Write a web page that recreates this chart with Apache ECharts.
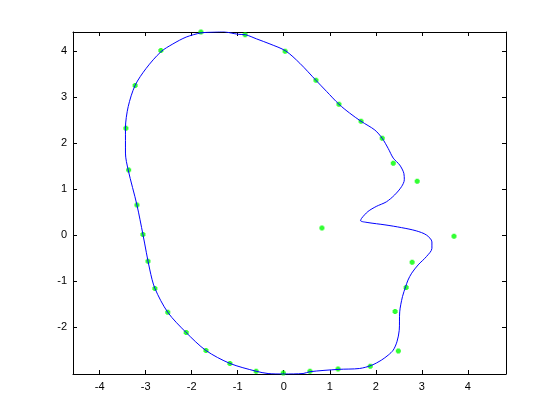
<!DOCTYPE html>
<html>
<head>
<meta charset="utf-8">
<script src="https://cdn.jsdelivr.net/npm/echarts@6/dist/echarts.min.js"></script>
<style>html,body{margin:0;padding:0;background:#fff;}#c{width:560px;height:420px;}</style>
</head>
<body>
<div id="c"></div>
<script>
var xTicks = [-4, -3, -2, -1, 0, 1, 2, 3, 4];
var yTicks = [-2, -1, 0, 1, 2, 3, 4];

var curveX = [-1.30, -0.99, -0.83, -0.59, -0.30, 0.04, 0.35, 0.70, 0.93, 1.20, 1.43, 1.68, 1.98, 2.14, 2.27, 2.38, 2.52, 2.61, 2.62, 2.56, 2.41, 2.23, 2.01, 1.83, 1.69, 1.67, 1.83, 2.20, 2.56, 2.88, 3.10, 3.22, 3.22, 3.10, 2.92, 2.78, 2.70, 2.65, 2.58, 2.52, 2.51, 2.46, 2.38, 2.27, 2.12, 1.91, 1.65, 1.18, 0.57, 0.42, 0.00, -0.34, -0.60, -1.17, -1.69, -2.12, -2.52, -2.80, -2.91, -3.06, -3.19, -3.38, -3.44, -3.44, -3.38, -3.23, -2.99, -2.67, -2.41, -2.12, -1.80, -1.54, -1.30];
var curveY = [4.42, 4.36, 4.35, 4.26, 4.15, 4.00, 3.73, 3.36, 3.12, 2.84, 2.65, 2.47, 2.28, 2.10, 1.88, 1.67, 1.52, 1.34, 1.20, 1.05, 0.87, 0.72, 0.62, 0.51, 0.36, 0.31, 0.27, 0.22, 0.16, 0.09, 0.00, -0.15, -0.29, -0.47, -0.65, -0.83, -0.98, -1.12, -1.34, -1.67, -2.07, -2.32, -2.50, -2.61, -2.72, -2.83, -2.90, -2.92, -2.97, -3.01, -3.02, -3.01, -2.96, -2.79, -2.51, -2.12, -1.68, -1.16, -0.76, 0.01, 0.65, 1.41, 1.78, 2.32, 2.79, 3.25, 3.62, 3.98, 4.15, 4.30, 4.39, 4.41, 4.42];

var pointsX = [-1.80, -0.84, -2.67, -3.23, -3.43, 0.03, 0.70, 1.20, 1.68, 2.14, 2.38, 2.90, 0.83, 3.70, 2.79, -3.37, -3.19, -3.06, -2.95, -2.80, -2.52, -2.12, -1.69, -1.17, -0.60, -0.01, 0.57, 1.18, 1.88, 2.49, 2.42, 2.66];
var pointsY = [4.41, 4.35, 4.01, 3.25, 2.32, 3.99, 3.36, 2.84, 2.47, 2.10, 1.56, 1.17, 0.15, -0.03, -0.59, 1.41, 0.65, 0.01, -0.57, -1.16, -1.68, -2.12, -2.51, -2.79, -2.96, -3.00, -2.96, -2.91, -2.85, -2.52, -1.66, -1.14];

var xMin = -4.58, xMax = 4.83, yMin = -3.02, yMax = 4.41;

var curveData = curveX.map(function (x, i) { return [x, curveY[i]]; });
var pointData = pointsX.map(function (x, i) { return [x, pointsY[i]]; });

var lab = { color: '#000', fontFamily: 'Liberation Sans, Arial, sans-serif', fontSize: 11 };
function axisCommon(extra) {
  var o = {
    type: 'value',
    axisLine: { show: true, onZero: false, lineStyle: { color: '#000', width: 1 } },
    splitLine: { show: false }
  };
  for (var k in extra) o[k] = extra[k];
  return o;
}
function ticks(vals) {
  return { show: true, inside: true, length: 4, lineStyle: { color: '#000' }, customValues: vals };
}

var chart = echarts.init(document.getElementById('c'), null, { renderer: 'canvas' });
chart.setOption({
  animation: false,
  backgroundColor: '#fff',
  grid: { left: 73, top: 32, right: 54, bottom: 46, containLabel: false },
  xAxis: [
    axisCommon({ position: 'bottom', min: xMin, max: xMax, axisTick: ticks(xTicks),
      axisLabel: Object.assign({ margin: 7, customValues: xTicks }, lab) }),
    axisCommon({ position: 'top', min: xMin, max: xMax, axisTick: ticks(xTicks),
      axisLabel: { show: false } })
  ],
  yAxis: [
    axisCommon({ position: 'left', min: yMin, max: yMax, axisTick: ticks(yTicks),
      axisLabel: Object.assign({ margin: 6, customValues: yTicks }, lab) }),
    axisCommon({ position: 'right', min: yMin, max: yMax, axisTick: ticks(yTicks),
      axisLabel: { show: false } })
  ],
  series: [
    {
      type: 'line', xAxisIndex: 0, yAxisIndex: 0,
      data: curveData, smooth: 0.3, symbol: 'none', clip: true,
      lineStyle: { color: '#0000ff', width: 1 }
    },
    {
      type: 'scatter', xAxisIndex: 0, yAxisIndex: 0,
      data: pointData, symbol: 'path://M1,0H4V1H5V4H4V5H1V4H0V1H1Z', symbolSize: 5, clip: false,
      itemStyle: { color: '#00ff00' }
    }
  ]
});
</script>
</body>
</html>
